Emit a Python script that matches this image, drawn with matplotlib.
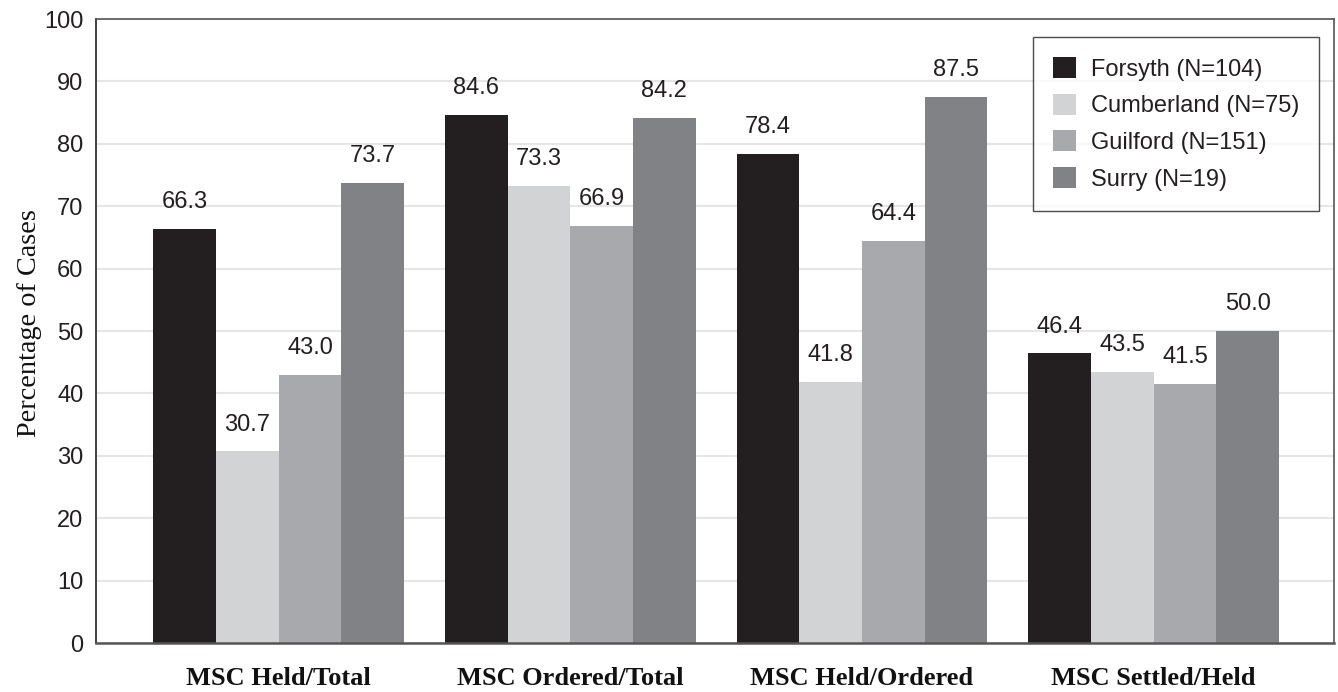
import numpy as np
import matplotlib
matplotlib.use('Agg')
import matplotlib.pyplot as plt

categories = ['MSC Held/Total', 'MSC Ordered/Total', 'MSC Held/Ordered', 'MSC Settled/Held']
series_names = ['Forsyth (N=104)', 'Cumberland (N=75)', 'Guilford (N=151)', 'Surry (N=19)']
forsyth = [66.3, 84.6, 78.4, 46.4]
cumberland = [30.7, 73.3, 41.8, 43.5]
guilford = [43.0, 66.9, 64.4, 41.5]
surry = [73.7, 84.2, 87.5, 50.0]

series = [forsyth, cumberland, guilford, surry]
colors = ['#231f20', '#d1d3d4', '#a7a9ac', '#808285']

plt.rcParams['font.family'] = ['Liberation Sans', 'DejaVu Sans']

fig = plt.figure(figsize=(13.38, 6.92), dpi=100)
ax = fig.add_axes([96 / 1338, 1 - 643 / 692, 1238 / 1338, 624 / 692])

x = np.arange(len(categories))
width = 0.215
for i, (vals, name, col) in enumerate(zip(series, series_names, colors)):
    pos = x + (i - 1.5) * width
    ax.bar(pos, vals, width, color=col, label=name, zorder=2)
    for px, v in zip(pos, vals):
        ax.annotate(f'{v:.1f}', (px, v), xytext=(0, 15), textcoords='offset points',
                    ha='center', va='baseline', fontsize=17, color='#231f20')

ax.set_ylim(0, 100)
ax.set_xlim(-0.626, 3.618)
ax.set_yticks(range(0, 101, 10))
ax.yaxis.grid(True, color='#e6e6e6', linewidth=1.5, zorder=0)
ax.set_axisbelow(True)
ax.tick_params(axis='y', length=0, pad=9, labelsize=17, labelcolor='#231f20')
ax.tick_params(axis='x', length=0, pad=17)
ax.set_xticks(x)
ax.set_xticklabels(categories, family='Liberation Serif', fontweight='bold',
                   fontsize=19, color='#111111')
for s in ax.spines.values():
    s.set_color('#555555')
    s.set_linewidth(1.2)
ax.spines['left'].set_color('#231f20')
ax.spines['bottom'].set_linewidth(1.8)

ax.set_ylabel('Percentage of Cases', family='Liberation Serif', fontsize=20.3, color='#111111')
ax.yaxis.set_label_coords(-0.044, 0.513)

leg = ax.legend(loc='upper right', bbox_to_anchor=((1319 - 96) / 1238, (643 - 37) / 624),
                fontsize=17, frameon=True, fancybox=False, edgecolor='#231f20',
                handlelength=1.0, handleheight=1.0, handletextpad=0.6,
                labelspacing=0.55, borderpad=0.85, borderaxespad=0)
leg.get_frame().set_linewidth(1.0)
for t in leg.get_texts():
    t.set_color('#231f20')

fig.savefig('out.png', dpi=100)
